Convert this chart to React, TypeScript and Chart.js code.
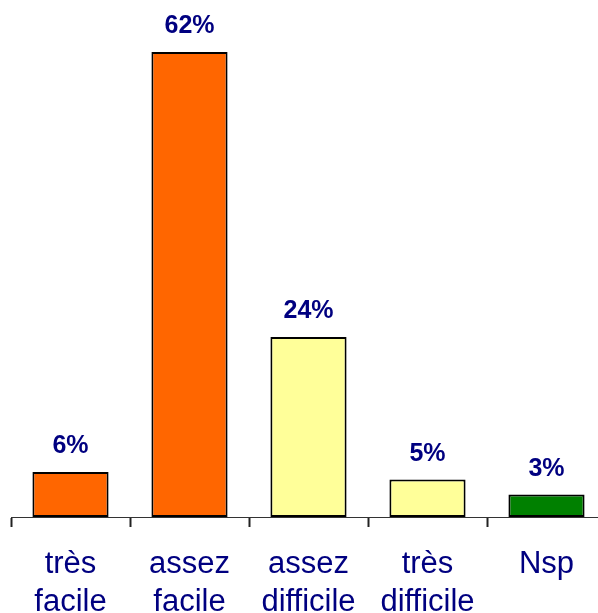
import React, { useEffect, useRef } from "react";
import { Chart, registerables } from "chart.js";

Chart.register(...registerables);

const categories: string[][] = [
  ["très", "facile"],
  ["assez", "facile"],
  ["assez", "difficile"],
  ["très", "difficile"],
  ["Nsp"],
];
const values: number[] = [6, 62, 24, 5, 3];
const valueLabels: string[] = ["6%", "62%", "24%", "5%", "3%"];
const barColors: string[] = ["#FF6600", "#FF6600", "#FFFF99", "#FFFF99", "#008000"];

const NAVY = "#000080";

const labelPlugin = {
  id: "valueLabels",
  afterDatasetsDraw(chart: any) {
    const ctx = chart.ctx;
    const meta = chart.getDatasetMeta(0);
    ctx.save();
    ctx.font = "bold 25px 'Liberation Sans', Arial, sans-serif";
    ctx.fillStyle = NAVY;
    ctx.textAlign = "center";
    ctx.textBaseline = "alphabetic";
    meta.data.forEach((bar: any, i: number) => {
      ctx.fillText(valueLabels[i], bar.x, bar.y - 19);
    });
    ctx.restore();
  },
};

export default function App() {
  const ref = useRef<HTMLCanvasElement | null>(null);
  useEffect(() => {
    if (!ref.current) return;
    const chart = new Chart(ref.current, {
      type: "bar",
      data: {
        labels: categories,
        datasets: [
          {
            data: values,
            backgroundColor: barColors,
            borderColor: "#000000",
            borderWidth: 2,
            borderSkipped: false,
            categoryPercentage: 1,
            barPercentage: 0.64,
          },
        ],
      },
      options: {
        animation: false,
        responsive: false,
        devicePixelRatio: 1,
        layout: { padding: { left: 11, right: 0, top: 7, bottom: 0 } },
        plugins: { legend: { display: false }, tooltip: { enabled: false } },
        scales: {
          y: { display: false, min: 0, max: 68 },
          x: {
            afterFit: (s: any) => {
              s.height = 123;
            },
            border: { display: true, color: "#333333", width: 1 },
            grid: {
              display: true,
              offset: true,
              drawOnChartArea: false,
              drawTicks: true,
              tickLength: 10,
              tickWidth: 2,
              tickColor: "#222222",
            },
            ticks: {
              color: NAVY,
              padding: 18,
              maxRotation: 0,
              autoSkip: false,
              font: { family: "'Liberation Sans', Arial, sans-serif", size: 31, lineHeight: 1.23 },
            },
          },
        },
      },
      plugins: [labelPlugin],
    });
    return () => chart.destroy();
  }, []);
  return (
    <div
      style={{
        position: "fixed",
        left: 0,
        top: 0,
        width: 598,
        height: 613,
        overflow: "hidden",
        background: "#ffffff",
      }}
    >
      <canvas ref={ref} width={606} height={640} style={{ display: "block", width: 606, height: 640 }} />
    </div>
  );
}
